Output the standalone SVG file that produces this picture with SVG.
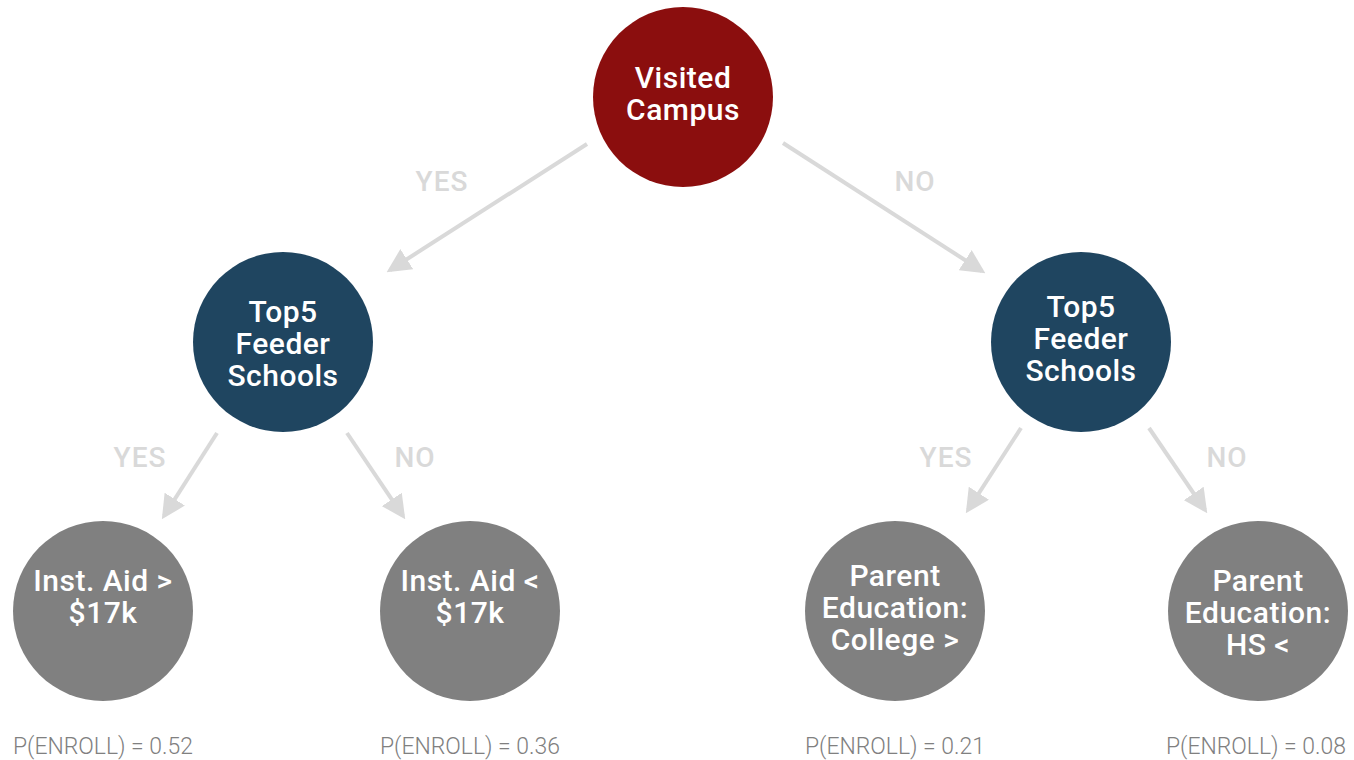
<svg xmlns="http://www.w3.org/2000/svg" width="1354" height="760" viewBox="0 0 1354 760">
<defs>
<marker id="ah" markerWidth="6" markerHeight="6" refX="5" refY="3" orient="auto" markerUnits="strokeWidth">
<path d="M0,0 L6,3 L0,6 Z" fill="#d9d9d9"/>
</marker>
<style>
.c{stroke:#d9d9d9;stroke-width:4;fill:none;marker-end:url(#ah)}
.lbl{font-family:Roboto,"Liberation Sans",sans-serif;font-size:28px;font-weight:500;letter-spacing:1px;fill:#d9d9d9;text-anchor:middle}
.nt{font-family:Roboto,"Liberation Sans",sans-serif;font-size:30px;font-weight:500;letter-spacing:0.5px;fill:#ffffff;text-anchor:middle}
.p{font-family:Roboto,"Liberation Sans",sans-serif;font-size:24px;font-weight:300;fill:#808080}
.root{fill:#8b0e0e}.mid{fill:#1f4560}.leaf{fill:#808080}
</style>
</defs>
<rect width="1354" height="760" fill="#ffffff"/>
<g id="connectors">
<line class="c" x1="587" y1="144" x2="390" y2="270"/>
<line class="c" x1="783" y1="143" x2="982" y2="271"/>
<line class="c" x1="217" y1="433" x2="164" y2="516"/>
<line class="c" x1="347" y1="433" x2="403" y2="516"/>
<line class="c" x1="1021" y1="428" x2="968" y2="510"/>
<line class="c" x1="1149" y1="428" x2="1205" y2="510"/>
<text class="lbl" x="442" y="191">YES</text>
<text class="lbl" x="915" y="191">NO</text>
<text class="lbl" x="140" y="467">YES</text>
<text class="lbl" x="415" y="467">NO</text>
<text class="lbl" x="946" y="467">YES</text>
<text class="lbl" x="1227" y="467">NO</text>
</g>
<g id="root">
<circle class="root" cx="683" cy="97" r="90"/>
<text class="nt" x="683" y="88">Visited</text>
<text class="nt" x="683" y="120">Campus</text>
</g>
<g id="left-mid">
<circle class="mid" cx="283" cy="342" r="90"/>
<text class="nt" x="283" y="322">Top5</text>
<text class="nt" x="283" y="354">Feeder</text>
<text class="nt" x="283" y="386">Schools</text>
</g>
<g id="right-mid">
<circle class="mid" cx="1081" cy="342" r="90"/>
<text class="nt" x="1081" y="317">Top5</text>
<text class="nt" x="1081" y="349">Feeder</text>
<text class="nt" x="1081" y="381">Schools</text>
</g>
<g id="leaf1">
<circle class="leaf" cx="103" cy="611" r="90"/>
<text class="nt" x="103" y="591">Inst. Aid &gt;</text>
<text class="nt" x="103" y="623">$17k</text>
<text class="p" x="13" y="754" textLength="180" lengthAdjust="spacingAndGlyphs">P(ENROLL) = 0.52</text>
</g>
<g id="leaf2">
<circle class="leaf" cx="470" cy="611" r="90"/>
<text class="nt" x="470" y="591">Inst. Aid &lt;</text>
<text class="nt" x="470" y="623">$17k</text>
<text class="p" x="380" y="754" textLength="180" lengthAdjust="spacingAndGlyphs">P(ENROLL) = 0.36</text>
</g>
<g id="leaf3">
<circle class="leaf" cx="895" cy="611" r="90"/>
<text class="nt" x="895" y="586">Parent</text>
<text class="nt" x="895" y="618">Education:</text>
<text class="nt" x="895" y="650">College &gt;</text>
<text class="p" x="805" y="754" textLength="180" lengthAdjust="spacingAndGlyphs">P(ENROLL) = 0.21</text>
</g>
<g id="leaf4">
<circle class="leaf" cx="1258" cy="611" r="90"/>
<text class="nt" x="1258" y="591">Parent</text>
<text class="nt" x="1258" y="623">Education:</text>
<text class="nt" x="1258" y="655">HS &lt;</text>
<text class="p" x="1166" y="754" textLength="180" lengthAdjust="spacingAndGlyphs">P(ENROLL) = 0.08</text>
</g>
</svg>
